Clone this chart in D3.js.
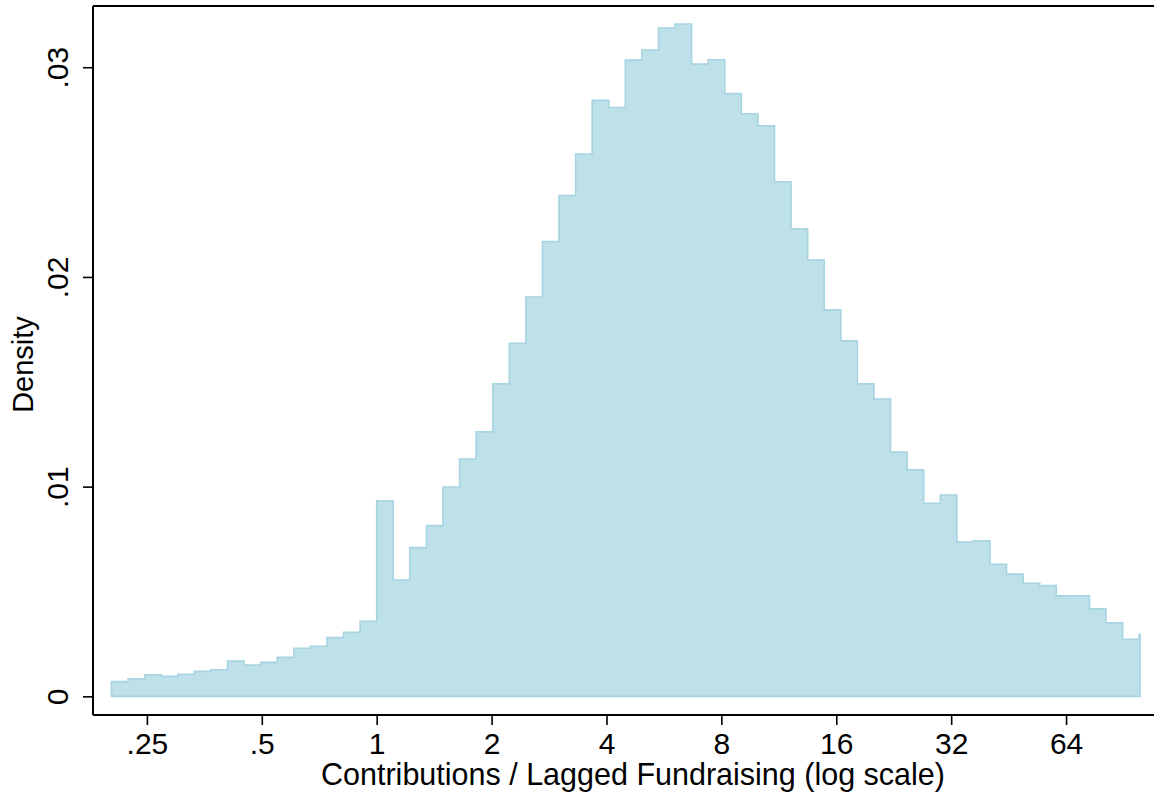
<!DOCTYPE html>
<html>
<head>
<meta charset="utf-8">
<script src="https://cdn.jsdelivr.net/npm/d3@7"></script>
<style>
  html, body { margin: 0; padding: 0; background: #ffffff; overflow: hidden; }
  svg { display: block; }
  text { font-family: "Liberation Sans", Arial, Helvetica, sans-serif; fill: #000; }
</style>
</head>
<body>
<svg id="chart" width="1154" height="793"></svg>
<script>
// Histogram of log(contributions / lagged fundraising): bins are 0.1 wide in ln units
const binStartLn = -1.6;     // ln of the first bin's lower edge
const binWidthLn = 0.1;      // bin width in ln units
const dataMax = 100;         // largest observed ratio; the last bin is cut at it

// Density of each bin, left to right
const density = [
  0.00070, 0.00084, 0.00103, 0.00095, 0.00105, 0.00119, 0.00127, 0.00168,
  0.00149, 0.00162, 0.00186, 0.00229, 0.00239, 0.00280, 0.00305, 0.00358,
  0.00933, 0.00555, 0.00709, 0.00814, 0.00998, 0.01132, 0.01261, 0.01490,
  0.01684, 0.01904, 0.02169, 0.02388, 0.02586, 0.02842, 0.02808, 0.03034,
  0.03082, 0.03187, 0.03206, 0.03015, 0.03036, 0.02874, 0.02778, 0.02721,
  0.02454, 0.02229, 0.02080, 0.01843, 0.01695, 0.01490, 0.01418, 0.01165,
  0.01080, 0.00921, 0.00960, 0.00736, 0.00742, 0.00630, 0.00583, 0.00539,
  0.00528, 0.00479, 0.00480, 0.00417, 0.00351, 0.00272, 0.00296
];

const xTicks = [0.25, 0.5, 1, 2, 4, 8, 16, 32, 64];
const xTickLabels = [".25", ".5", "1", "2", "4", "8", "16", "32", "64"];
const yTicks = [0, 0.01, 0.02, 0.03];
const yTickLabels = ["0", ".01", ".02", ".03"];

const xTitle = "Contributions / Lagged Fundraising (log scale)";
const yTitle = "Density";

// ---- layout ----
const plot = { left: 93, right: 1173, top: 6, bottom: 715 };
const fill = "#bee0e9";
const edge = "#a6d4e1";

const svg = d3.select("#chart");

const x = d3.scaleLog().base(2)
  .domain([0.1806, 122.0])
  .range([plot.left, plot.right]);

const y = d3.scaleLinear()
  .domain([-0.00089, 0.03292])
  .range([plot.bottom, plot.top]);

// Bin edges on the original scale
const bins = density.map((d, i) => ({
  lo: Math.exp(binStartLn + binWidthLn * i),
  hi: Math.min(Math.exp(binStartLn + binWidthLn * (i + 1)), dataMax),
  d: d
}));

// Step outline of the histogram
const steps = bins.map(b => [b.lo, b.d]);
steps.push([bins[bins.length - 1].hi, bins[bins.length - 1].d]);

const area = d3.area()
  .curve(d3.curveStepAfter)
  .x(p => x(p[0]))
  .y0(y(0))
  .y1(p => y(p[1]));

svg.append("path")
  .datum(steps)
  .attr("d", area(steps) + "Z")
  .attr("fill", fill)
  .attr("stroke", edge)
  .attr("stroke-width", 1.6)
  .attr("stroke-linejoin", "miter");

// Plot region frame (top edge)
svg.append("line")
  .attr("x1", plot.left).attr("x2", plot.right)
  .attr("y1", plot.top).attr("y2", plot.top)
  .attr("stroke", "#000").attr("stroke-width", 2);

// X axis
const xAxis = d3.axisBottom(x)
  .tickValues(xTicks)
  .tickFormat((d, i) => xTickLabels[i])
  .tickSize(10);

const gx = svg.append("g")
  .attr("transform", `translate(0,${plot.bottom})`)
  .call(xAxis);
gx.select(".domain").attr("stroke", "#000").attr("stroke-width", 2)
  .attr("d", `M${plot.left},0H${plot.right}`);
gx.selectAll(".tick line").attr("stroke", "#000").attr("stroke-width", 1.6);
gx.selectAll(".tick text")
  .style("font-size", "30px")
  .attr("font-family", null)
  .attr("y", 39)
  .attr("dy", null)
  .attr("fill", "#000");

// Y axis
const yAxis = d3.axisLeft(y)
  .tickValues(yTicks)
  .tickFormat((d, i) => yTickLabels[i])
  .tickSize(10);

const gy = svg.append("g")
  .attr("transform", `translate(${plot.left},0)`)
  .call(yAxis);
gy.select(".domain").attr("stroke", "#000").attr("stroke-width", 2)
  .attr("d", `M0,${plot.bottom}V${plot.top}`);
gy.selectAll(".tick line").attr("stroke", "#000").attr("stroke-width", 1.6);
gy.selectAll(".tick text")
  .style("font-size", "30px")
  .attr("font-family", null)
  .attr("text-anchor", "middle")
  .attr("dy", null)
  .attr("x", null)
  .attr("transform", "translate(-25,0) rotate(-90)");

// Axis titles
svg.append("text")
  .attr("x", (plot.left + plot.right) / 2)
  .attr("y", 785)
  .attr("text-anchor", "middle")
  .style("font-size", "30.5px")
  .text(xTitle);

svg.append("text")
  .attr("transform", `translate(33,${(plot.top + plot.bottom) / 2 + 4}) rotate(-90)`)
  .attr("text-anchor", "middle")
  .style("font-size", "29px")
  .text(yTitle);
</script>
</body>
</html>
